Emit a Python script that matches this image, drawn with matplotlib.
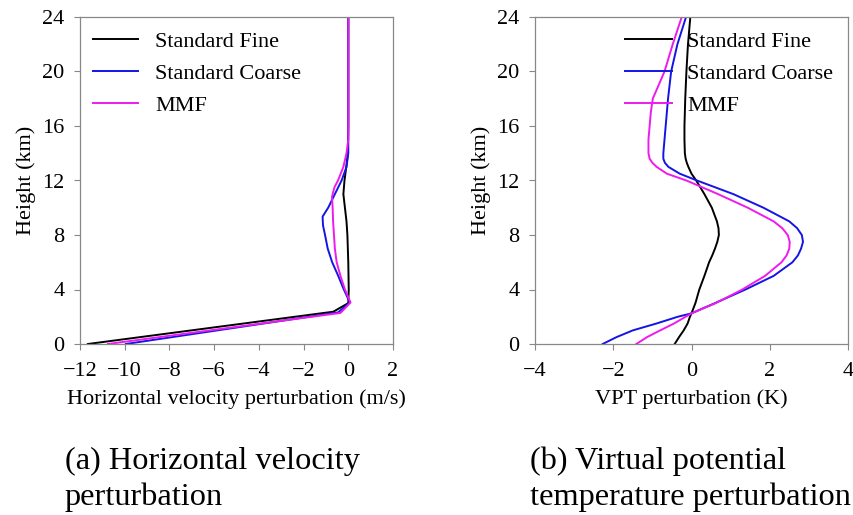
import numpy as np
import matplotlib
matplotlib.use('Agg')
import matplotlib.pyplot as plt

plt.rcParams['font.family'] = ['Liberation Serif', 'DejaVu Serif']

labels = ['Standard Fine', 'Standard Coarse', 'MMF']
colors = ['black', '#1414e6', '#ee1aee']

# horizontal velocity perturbation (m/s) vs height (km), one profile per run
u_fine_z = [0, 2.37, 3.0, 4, 6, 8, 9, 10, 11, 12, 13, 14, 16, 20, 24]
u_fine = [-11.65, -0.67, 0.0, 0.02, 0.0, -0.04, -0.08, -0.15, -0.22, -0.17, -0.09, -0.02, 0.0, 0.0, 0.0]
u_coarse_z = [0, 2.32, 3.05, 4, 5, 6, 7, 8, 8.7, 9.35, 10, 11, 12, 13, 14, 15, 24]
u_coarse = [-9.95, -0.45, 0.07, -0.2, -0.45, -0.72, -0.92, -1.04, -1.13, -1.15, -0.9, -0.6, -0.3, -0.08, 0.0, 0.0, 0.0]
u_mmf_z = [0, 2.28, 3.05, 4, 5, 6, 7, 8, 9, 10, 10.8, 11.5, 12, 13, 14, 15, 24]
u_mmf = [-10.75, -0.35, 0.1, -0.15, -0.35, -0.52, -0.6, -0.64, -0.68, -0.7, -0.73, -0.62, -0.46, -0.22, -0.08, 0.0, 0.0]

# virtual potential temperature perturbation (K)
vpt_z = [0, 0.5, 1, 1.5, 2, 2.25, 3, 4, 5, 6, 6.5, 7, 7.5, 8, 8.5, 9, 10, 11, 12, 12.5, 13, 13.3, 13.6,
         14, 15, 16, 17, 18, 20, 22, 24]
vpt_fine = [-0.43, -0.32, -0.2, -0.1, -0.04, 0.0, 0.1, 0.2, 0.33, 0.45, 0.53, 0.6, 0.66, 0.7, 0.69, 0.65,
            0.52, 0.33, 0.12, 0.0, -0.08, -0.12, -0.15, -0.17, -0.18, -0.18, -0.17, -0.16, -0.13, -0.09, -0.03]
vpt_coarse = [-2.27, -1.92, -1.5, -0.9, -0.35, 0.0, 0.6, 1.38, 2.1, 2.58, 2.72, 2.8, 2.85, 2.82, 2.7, 2.5,
              1.84, 1.07, 0.14, -0.3, -0.59, -0.68, -0.72, -0.72, -0.69, -0.66, -0.63, -0.6, -0.52, -0.36, -0.14]
vpt_mmf = [-1.41, -1.14, -0.8, -0.45, -0.15, 0.0, 0.62, 1.3, 1.88, 2.3, 2.43, 2.5, 2.51, 2.46, 2.32, 2.1,
           1.44, 0.68, -0.13, -0.63, -0.89, -1.0, -1.07, -1.1, -1.1, -1.07, -1.04, -0.99, -0.69, -0.48, -0.25]

fig = plt.figure(figsize=(8.54, 5.15), dpi=100)
ax1 = fig.add_axes([80 / 854, 171 / 515, 313 / 854, 327 / 515])
ax2 = fig.add_axes([535 / 854, 171 / 515, 313 / 854, 327 / 515])

ax1.plot(u_fine, u_fine_z, color=colors[0], lw=1.4, label=labels[0])
ax1.plot(u_coarse, u_coarse_z, color=colors[1], lw=1.4, label=labels[1])
ax1.plot(u_mmf, u_mmf_z, color=colors[2], lw=1.4, label=labels[2])

ax2.plot(vpt_fine, vpt_z, color=colors[0], lw=1.4, label=labels[0])
ax2.plot(vpt_coarse, vpt_z, color=colors[1], lw=1.4, label=labels[1])
ax2.plot(vpt_mmf, vpt_z, color=colors[2], lw=1.4, label=labels[2])

ax1.set_xlim(-12, 2)
ax1.set_xticks(np.arange(-12, 3, 2))
ax2.set_xlim(-4, 4)
ax2.set_xticks(np.arange(-4, 5, 2))
ax1.set_xlabel('Horizontal velocity perturbation (m/s)', fontsize=16, labelpad=6)
ax2.set_xlabel('VPT perturbation (K)', fontsize=16, labelpad=6)

for ax in (ax1, ax2):
    ax.set_ylim(0, 24)
    ax.set_yticks(np.arange(0, 25, 4))
    ax.set_ylabel('Height (km)', fontsize=16, labelpad=5)
    ax.tick_params(direction='out', length=4, width=0.8, color='#888888', labelsize=16)
    ax.tick_params(axis='x', pad=9)
    ax.tick_params(axis='y', pad=7)
    for s in ax.spines.values():
        s.set_color('#888888')
        s.set_linewidth(0.9)

ax1.legend(loc='upper left', bbox_to_anchor=(0.042, 0.955), frameon=False,
           fontsize=16, borderpad=0, borderaxespad=0, handlelength=2.0,
           handletextpad=0.8, labelspacing=0.5)
ax2.legend(loc='upper left', bbox_to_anchor=(0.2875, 0.955), frameon=False,
           fontsize=16, borderpad=0, borderaxespad=0, handlelength=2.1,
           handletextpad=0.7, labelspacing=0.5)

fig.text(65 / 854, 10 / 515, '(a) Horizontal velocity\nperturbation', fontsize=23.3,
         ha='left', va='baseline', linespacing=1.3)
fig.text(530 / 854, 10 / 515, '(b) Virtual potential\ntemperature perturbation', fontsize=23.3,
         ha='left', va='baseline', linespacing=1.3)

fig.savefig('out.png', dpi=100)
